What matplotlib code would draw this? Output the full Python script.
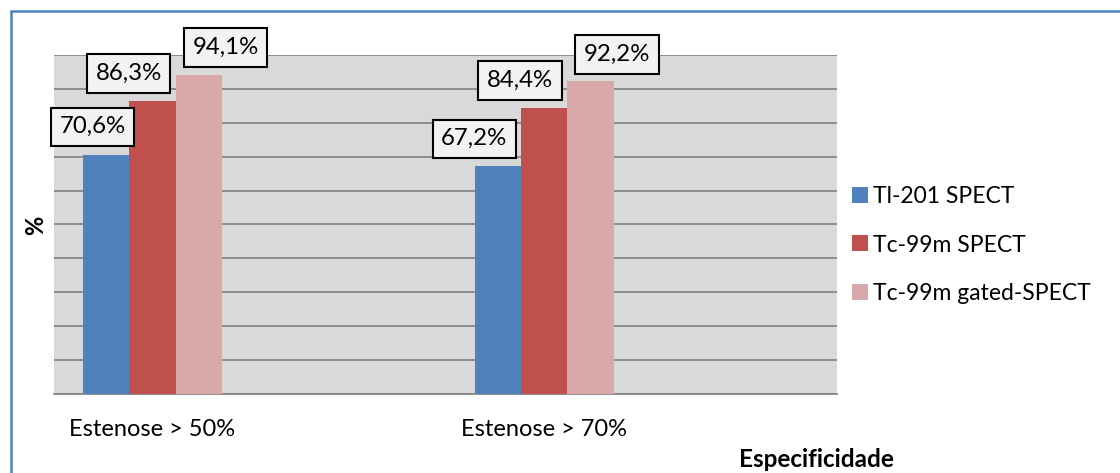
import matplotlib
matplotlib.use("Agg")
import matplotlib.pyplot as plt
from matplotlib.patches import Patch, Rectangle
import numpy as np

plt.rcParams['font.family'] = ['Lato', 'DejaVu Sans']

categories = ["Estenose > 50%", "Estenose > 70%"]
series = ["Tl-201 SPECT", "Tc-99m SPECT", "Tc-99m gated-SPECT"]
values = [
    [70.6, 67.2],
    [86.3, 84.4],
    [94.1, 92.2],
]
value_labels = [
    ["70,6%", "67,2%"],
    ["86,3%", "84,4%"],
    ["94,1%", "92,2%"],
]
colors = ["#4f81bd", "#c0504d", "#d9a8a9"]
# label box offsets (pixels) relative to bar top centre
label_offsets = [
    [(-13.5, 28), (-23.5, 27.5)],
    [(-24, 28), (-24, 27.5)],
    [(26.7, 27.5), (26.5, 27)],
]

W, H = 1120, 473
fig = plt.figure(figsize=(W / 100, H / 100), dpi=100)
ax = fig.add_axes([54 / W, 1 - 394 / H, (837 - 54) / W, (394 - 55) / H])
ax.set_facecolor("#d9d9d9")

x = np.arange(len(categories))
bw = 0.1183
for i, (s, vals) in enumerate(zip(series, values)):
    pos = x + (i - 1) * bw
    ax.bar(pos, vals, width=bw, color=colors[i], label=s, zorder=3)
    for j, v in enumerate(vals):
        dx, dy = label_offsets[i][j]
        ax.annotate(value_labels[i][j], (pos[j], v), xytext=(dx * 0.72, dy * 0.72),
                    textcoords="offset points", ha="center", va="center",
                    fontsize=17.3, color="#000000", zorder=5,
                    bbox=dict(boxstyle="square,pad=0.36", fc="#f2f2f2", ec="#000000", lw=1.5))

ax.set_ylim(0, 100)
ax.set_xlim(-0.2516, 1.748)
ax.set_yticks(np.arange(0, 101, 10))
ax.yaxis.grid(True, color="#868686", lw=1.3, zorder=1)
ax.set_axisbelow(True)
ax.tick_params(axis="y", length=0, labelleft=False)
ax.tick_params(axis="x", length=0, pad=18, labelsize=17)
ax.set_xticks(x)
ax.set_xticklabels(categories)
for sp in ["top", "right", "left"]:
    ax.spines[sp].set_visible(False)
ax.spines["bottom"].set_color("#868686")
ax.spines["bottom"].set_linewidth(1.3)

fig.text(35.5 / W, 1 - 225 / H, "%", rotation=90, ha="center", va="center",
         fontsize=17, fontweight="bold")
fig.text(816 / W, 1 - 459 / H, "Especificidade", ha="center", va="center",
         fontsize=17.5, fontweight="bold")

handles = [Patch(facecolor=c, edgecolor="none") for c in colors]
fig.legend(handles, series, loc="center left", bbox_to_anchor=(843 / W, 1 - 245 / H),
           frameon=False, fontsize=16.5, handlelength=0.7, handleheight=0.7,
           handletextpad=0.2, labelspacing=1.2, borderaxespad=0)

# outer chart border (top and left visible)
fig.patches.append(Rectangle((10.5 / W, -0.2), 1.2, 1 - 11 / H + 0.2, transform=fig.transFigure,
                             fill=False, ec="#4f81bd", lw=1.8))

fig.savefig("out.png", dpi=100)
